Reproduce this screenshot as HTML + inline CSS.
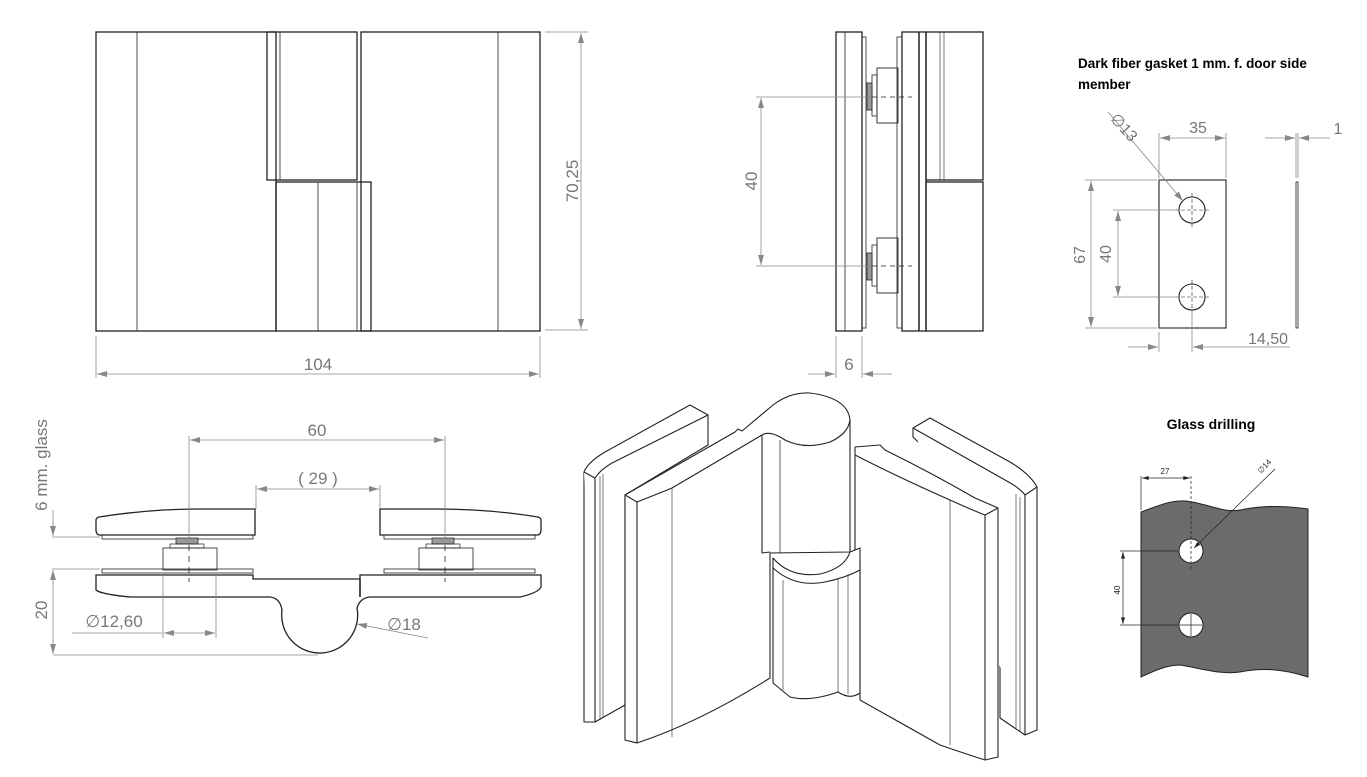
<!DOCTYPE html>
<html><head><meta charset="utf-8"><style>
html,body{margin:0;padding:0;background:#fff;}
svg{display:block;}
text{font-family:"Liberation Sans",sans-serif;}
</style></head><body>
<svg width="1367" height="777" viewBox="0 0 1367 777" xmlns="http://www.w3.org/2000/svg">
<defs>
<marker id="a" viewBox="0 0 10 6" refX="10" refY="3" markerWidth="10" markerHeight="6" orient="auto-start-reverse" markerUnits="userSpaceOnUse"><path d="M0,0 L10,3 L0,6z" fill="#888"/></marker>
<marker id="b" viewBox="0 0 10 6" refX="10" refY="3" markerWidth="7" markerHeight="4" orient="auto-start-reverse" markerUnits="userSpaceOnUse"><path d="M0,0 L10,3 L0,6z" fill="#222"/></marker>
</defs>
<!-- TOP-LEFT FRONT VIEW -->
<g fill="none" stroke="#222" stroke-width="1.3">
<rect x="96" y="32" width="180" height="299"/>
<line x1="137" y1="32" x2="137" y2="331" stroke-width="0.8"/>
<rect x="267" y="32" width="90" height="148"/>
<line x1="280" y1="32" x2="280" y2="180" stroke-width="0.8"/>
<rect x="361" y="32" width="179" height="299"/>
<line x1="498" y1="32" x2="498" y2="331" stroke-width="0.8"/>
<rect x="276" y="182" width="95" height="149"/>
<line x1="318" y1="182" x2="318" y2="331" stroke-width="0.8"/>
<line x1="357" y1="182" x2="357" y2="331" stroke-width="0.8"/>
</g>
<g stroke="#888" stroke-width="0.8" fill="none">
<line x1="545" y1="32" x2="588" y2="32"/><line x1="545" y1="330" x2="588" y2="330"/>
<line x1="581" y1="33" x2="581" y2="329" marker-start="url(#a)" marker-end="url(#a)"/>
<line x1="96" y1="336" x2="96" y2="378"/><line x1="540" y1="336" x2="540" y2="378"/>
<line x1="97" y1="374" x2="539" y2="374" marker-start="url(#a)" marker-end="url(#a)"/>
</g>
<text x="318" y="370" font-size="17" fill="#777" text-anchor="middle">104</text>
<text transform="translate(578,181) rotate(-90)" font-size="17" fill="#777" text-anchor="middle">70,25</text>

<!-- SIDE VIEW -->
<g fill="none" stroke="#222" stroke-width="1.3">
<rect x="836" y="32" width="26" height="299"/>
<line x1="845" y1="32" x2="845" y2="331" stroke-width="0.8"/>
<rect x="862" y="37" width="4" height="291" stroke-width="0.8"/>
<rect x="897" y="37" width="5" height="291" stroke-width="0.8"/>
<rect x="902" y="32" width="24" height="299"/>
<line x1="919" y1="32" x2="919" y2="331" stroke-width="1.5"/>
<rect x="926" y="32" width="57" height="148"/>
<rect x="926" y="182" width="57" height="149"/>
<line x1="940" y1="32" x2="940" y2="180" stroke-width="0.6"/>
<line x1="944" y1="32" x2="944" y2="180" stroke-width="0.6"/>
<rect x="877" y="68" width="21" height="55" stroke-width="0.9"/>
<rect x="877" y="238" width="21" height="55" stroke-width="0.9"/>
<rect x="872" y="75" width="5" height="41" stroke-width="0.8"/>
<rect x="872" y="245" width="5" height="41" stroke-width="0.8"/>
</g>
<rect x="867" y="83" width="5" height="27" fill="#999" stroke="#222" stroke-width="0.8"/>
<rect x="867" y="253" width="5" height="27" fill="#999" stroke="#222" stroke-width="0.8"/>
<g stroke="#222" stroke-width="0.8" stroke-dasharray="5,4"><line x1="872" y1="97" x2="912" y2="97"/><line x1="872" y1="266" x2="912" y2="266"/></g>
<g stroke="#888" stroke-width="0.8" fill="none">
<line x1="756" y1="97" x2="870" y2="97"/><line x1="756" y1="266" x2="870" y2="266"/>
<line x1="761" y1="98" x2="761" y2="265" marker-start="url(#a)" marker-end="url(#a)"/>
<line x1="836" y1="336" x2="836" y2="378"/><line x1="862" y1="336" x2="862" y2="378"/>
<line x1="808" y1="374" x2="835" y2="374" marker-end="url(#a)"/>
<line x1="892" y1="374" x2="863" y2="374" marker-end="url(#a)"/>
</g>
<text x="849" y="370" font-size="17" fill="#777" text-anchor="middle">6</text>
<text transform="translate(757,181) rotate(-90)" font-size="17" fill="#777" text-anchor="middle">40</text>

<!-- GASKET -->
<text x="1078" y="68" font-size="13.5" font-weight="bold" fill="#000">Dark fiber gasket 1 mm. f. door side</text>
<text x="1078" y="89" font-size="13.5" font-weight="bold" fill="#000">member</text>
<g fill="none" stroke="#222" stroke-width="1.1">
<rect x="1159" y="180" width="67" height="148"/>
<circle cx="1192" cy="210" r="13"/><circle cx="1192" cy="297" r="13"/>
<rect x="1296" y="182" width="2" height="146" stroke-width="0.8"/>
</g>
<g stroke="#222" stroke-width="0.6" stroke-dasharray="4,2"><line x1="1175" y1="210" x2="1210" y2="210"/><line x1="1192" y1="193" x2="1192" y2="228"/><line x1="1175" y1="297" x2="1210" y2="297"/><line x1="1192" y1="280" x2="1192" y2="315"/></g>
<g stroke="#888" stroke-width="0.8" fill="none">
<line x1="1159" y1="133" x2="1159" y2="178"/><line x1="1226" y1="133" x2="1226" y2="178"/>
<line x1="1160" y1="138" x2="1225" y2="138" marker-start="url(#a)" marker-end="url(#a)"/>
<line x1="1085" y1="180" x2="1157" y2="180"/><line x1="1085" y1="328" x2="1157" y2="328"/>
<line x1="1091" y1="181" x2="1091" y2="327" marker-start="url(#a)" marker-end="url(#a)"/>
<line x1="1113" y1="210" x2="1180" y2="210"/><line x1="1113" y1="297" x2="1180" y2="297"/>
<line x1="1118" y1="211" x2="1118" y2="296" marker-start="url(#a)" marker-end="url(#a)"/>
<line x1="1108" y1="112" x2="1183" y2="201" marker-end="url(#a)"/>
<line x1="1296" y1="133" x2="1296" y2="178"/><line x1="1298" y1="133" x2="1298" y2="178"/>
<line x1="1265" y1="138" x2="1295" y2="138" marker-end="url(#a)"/>
<line x1="1330" y1="138" x2="1299" y2="138" marker-end="url(#a)"/>
<line x1="1159" y1="332" x2="1159" y2="352"/><line x1="1192" y1="312" x2="1192" y2="352"/>
<line x1="1128" y1="347" x2="1158" y2="347" marker-end="url(#a)"/>
<line x1="1290" y1="347" x2="1193" y2="347" marker-end="url(#a)"/>
</g>
<text x="1198" y="133" font-size="16" fill="#777" text-anchor="middle">35</text>
<text x="1338" y="134" font-size="16" fill="#777" text-anchor="middle">1</text>
<text x="1268" y="344" font-size="16" fill="#777" text-anchor="middle">14,50</text>
<text transform="translate(1085,255) rotate(-90)" font-size="16" fill="#777" text-anchor="middle">67</text>
<text transform="translate(1111,254) rotate(-90)" font-size="16" fill="#777" text-anchor="middle">40</text>
<text transform="translate(1120,131) rotate(48)" font-size="16" fill="#777" text-anchor="middle">∅13</text>

<!-- GLASS DRILLING -->
<text x="1211" y="429" font-size="14" font-weight="bold" fill="#000" text-anchor="middle">Glass drilling</text>
<path d="M1141,512 C1160,505 1175,498 1192,502 C1210,505 1225,513 1240,510 C1260,506 1280,505 1308,509 L1308,677 C1280,668 1260,668 1240,672 C1220,675 1200,668 1180,665 C1165,665 1150,673 1141,677 Z" fill="#6b6b6b" stroke="#222" stroke-width="1"/>
<circle cx="1191" cy="551" r="12" fill="#fff" stroke="#222"/>
<circle cx="1191" cy="625" r="12" fill="#fff" stroke="#222"/>
<g stroke="#222" stroke-width="0.7" fill="none">
<line x1="1141" y1="476" x2="1141" y2="510"/><line x1="1191" y1="476" x2="1191" y2="570" stroke-dasharray="3,2"/>
<line x1="1142" y1="478" x2="1190" y2="478" marker-start="url(#b)" marker-end="url(#b)"/>
<line x1="1120" y1="551" x2="1178" y2="551"/><line x1="1120" y1="625" x2="1178" y2="625"/>
<line x1="1123" y1="552" x2="1123" y2="624" marker-start="url(#b)" marker-end="url(#b)"/>
<line x1="1275" y1="469" x2="1194" y2="548" marker-end="url(#b)"/>
<line x1="1180" y1="625" x2="1202" y2="625"/><line x1="1191" y1="614" x2="1191" y2="636"/>
</g>
<text x="1165" y="474" font-size="8" fill="#222" text-anchor="middle">27</text>
<text transform="translate(1261,474) rotate(-47)" font-size="8" fill="#222">∅14</text>
<text transform="translate(1120,590) rotate(-90)" font-size="8" fill="#222" text-anchor="middle">40</text>

<!-- BOTTOM-LEFT TOP VIEW -->
<g fill="none" stroke="#222" stroke-width="1.3">
<path d="M99,517 Q150,509 200,509 L255,509 L255,535 L99,535 Q96,534 96,530 L96,520 Q96,518 99,517Z"/>
<path d="M380,509 L435,509 Q490,509 538,517 Q541,518 541,520 L541,530 Q541,534 538,535 L380,535Z"/>
<rect x="102" y="535" width="151" height="4" stroke-width="0.8"/>
<rect x="384" y="535" width="151" height="4" stroke-width="0.8"/>
<rect x="163" y="548" width="54" height="22" stroke-width="0.8"/>
<rect x="419" y="548" width="54" height="22" stroke-width="0.8"/>
<rect x="102" y="569" width="151" height="4" stroke-width="0.8"/>
<rect x="384" y="569" width="151" height="4" stroke-width="0.8"/>
<path d="M96,575 L253,575 L253,579 L360,579 L360,575 L541,575 L541,587 Q538,593 520,597 L370,597 Q360,598 357,608 A38,38 0 1 1 282,610 Q280,598 270,597 L130,597 Q100,594 96,590 Z"/>
<line x1="360" y1="579" x2="360" y2="597" stroke-width="1.6"/>
</g>
<rect x="176" y="538" width="22" height="6" fill="#999" stroke="#222" stroke-width="0.7"/>
<rect x="432" y="538" width="22" height="6" fill="#999" stroke="#222" stroke-width="0.7"/>
<rect x="170" y="544" width="34" height="4" fill="none" stroke="#222" stroke-width="0.7"/>
<rect x="426" y="544" width="34" height="4" fill="none" stroke="#222" stroke-width="0.7"/>
<g stroke="#222" stroke-width="0.8" stroke-dasharray="6,5"><line x1="189" y1="545" x2="189" y2="582"/><line x1="445" y1="545" x2="445" y2="582"/></g>
<g stroke="#888" stroke-width="0.8" fill="none">
<line x1="189" y1="436" x2="189" y2="540"/><line x1="445" y1="436" x2="445" y2="540"/>
<line x1="190" y1="440" x2="444" y2="440" marker-start="url(#a)" marker-end="url(#a)"/>
<line x1="256" y1="485" x2="256" y2="509"/><line x1="380" y1="485" x2="380" y2="509"/>
<line x1="257" y1="489" x2="379" y2="489" marker-start="url(#a)" marker-end="url(#a)"/>
<line x1="52" y1="537" x2="100" y2="537"/><line x1="52" y1="569" x2="100" y2="569"/>
<line x1="53" y1="655" x2="318" y2="655"/>
<line x1="53" y1="510" x2="53" y2="536" marker-end="url(#a)"/>
<line x1="53" y1="570" x2="53" y2="654" marker-start="url(#a)" marker-end="url(#a)"/>
<line x1="163" y1="575" x2="163" y2="638"/><line x1="216" y1="575" x2="216" y2="638"/>
<line x1="72" y1="633" x2="162" y2="633"/>
<line x1="164" y1="633" x2="215" y2="633" marker-start="url(#a)" marker-end="url(#a)"/>
<line x1="428" y1="638" x2="357" y2="624" marker-end="url(#a)"/>
</g>
<text x="317" y="436" font-size="17" fill="#777" text-anchor="middle">60</text>
<text x="318" y="484" font-size="17" fill="#777" text-anchor="middle">( 29 )</text>
<text x="114" y="627" font-size="17" fill="#777" text-anchor="middle">∅12,60</text>
<text x="404" y="630" font-size="17" fill="#777" text-anchor="middle">∅18</text>
<text transform="translate(47,465) rotate(-90)" font-size="17" fill="#777" text-anchor="middle">6 mm. glass</text>
<text transform="translate(47,610) rotate(-90)" font-size="17" fill="#777" text-anchor="middle">20</text>

<!-- 3D VIEW -->
<g fill="#fff" stroke="#222" stroke-width="1.1" stroke-linejoin="round">
<!-- back left glass -->
<path d="M584,472 Q588,462 605,452 L690,405 L708,415 L708,445 L625,495 L625,705 L595,722 L584,722 Z"/>
<path d="M584,472 L595,478 L595,722"/>
<path d="M595,478 Q600,470 612,463 L708,415"/>
<line x1="600" y1="476" x2="600" y2="720" stroke-width="0.6"/>
<line x1="603" y1="474" x2="603" y2="718" stroke-width="0.6"/>
<!-- back right glass -->
<path d="M913,428 L930,418 L1010,462 Q1030,474 1037,487 L1037,730 L1025,735 L1000,718 L1000,520 L913,437 Z"/>
<path d="M913,428 L1005,480 Q1020,488 1025,495 L1025,735"/>
<line x1="1037" y1="487" x2="1025" y2="495"/>
<line x1="1020" y1="497" x2="1020" y2="732" stroke-width="0.6"/>
<line x1="1016" y1="494" x2="1016" y2="728" stroke-width="0.6"/>
<!-- right plate -->
<path d="M855,447 L880,445 L885,450 Q930,472 975,498 L998,508 L998,757 L985,760 Q960,752 940,745 L860,700 L860,560 L855,555 Z"/>
<path d="M855,455 Q900,478 950,500 Q972,510 985,515 L985,760"/>
<line x1="985" y1="515" x2="998" y2="508"/>
<line x1="950" y1="500" x2="950" y2="745" stroke-width="0.6"/>
<!-- left plate -->
<path d="M625,495 L700,452 L735,432 L738,429 L742,431 L773,405 Q790,392 810,393 Q848,398 850,420 L850,552 L770,553 L770,678 Q700,722 637,743 L625,740 Z"/>
<path d="M625,495 L637,502 Q655,495 672,488 L762,435" fill="none"/>
<line x1="637" y1="502" x2="637" y2="743"/>
<line x1="672" y1="488" x2="672" y2="737" stroke-width="0.6"/>
<!-- upper barrel -->
<path d="M762,435 Q770,430 785,440 Q805,450 830,442 Q848,434 850,420" fill="none"/>
<path d="M762,435 L762,553 L770,552" fill="none"/>
<line x1="780" y1="440" x2="780" y2="553" stroke-width="0.7"/>
<!-- lower barrel -->
<path d="M773,558 Q790,578 820,574 Q845,568 850,552 L860,548 L860,693 Q850,700 838,692 Q810,702 790,697 L773,683 Z"/>
<path d="M773,568 Q795,588 825,582 Q845,578 860,570" fill="none"/>
<line x1="783" y1="580" x2="783" y2="690" stroke-width="0.6"/>
<line x1="838" y1="578" x2="838" y2="692" stroke-width="0.6"/>
<line x1="848" y1="575" x2="848" y2="694" stroke-width="0.6"/>
</g>
</svg>
</body></html>
